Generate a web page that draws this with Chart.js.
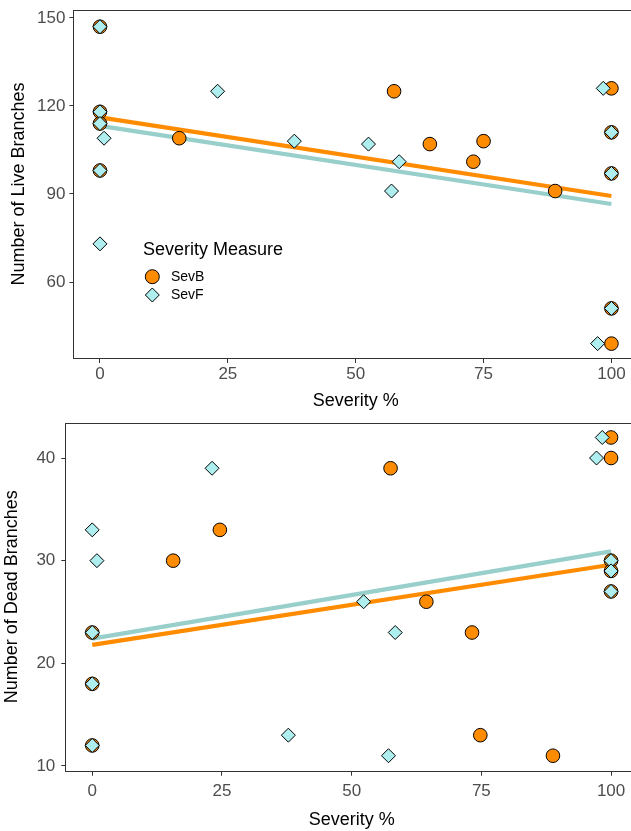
<!DOCTYPE html>
<html>
<head>
<meta charset="utf-8">
<script src="https://cdn.jsdelivr.net/npm/chart.js@4.4.0/dist/chart.umd.min.js"></script>
<style>
  html, body { margin: 0; padding: 0; background: #fff; overflow: hidden; width: 631px; height: 831px; }
  .panel { position: absolute; left: 0; }
</style>
</head>
<body>
<div class="panel" style="top:0"><canvas id="liveChart" width="637" height="415"></canvas></div>
<div class="panel" style="top:415px"><canvas id="deadChart" width="637" height="416"></canvas></div>
<script>
// --- data ---
// top panel: number of live branches
const liveSevBX = [0, 0, 0, 0, 15.5, 57.5, 64.5, 73, 75, 89, 100, 100, 100, 100, 100];
const liveSevBY = [147, 118, 114, 98, 109, 125, 107, 101, 108, 91, 126, 111, 97, 51, 39];
const liveSevFX = [0, 0, 0, 0, 0, 0.8, 23, 38, 52.5, 57, 58.5, 98.4, 97.3, 100, 100, 100];
const liveSevFY = [147, 118, 114, 98, 73, 109, 125, 108, 107, 91, 101, 126, 39, 111, 97, 51];

// bottom panel: number of dead branches
const deadSevBX = [0, 0, 0, 15.6, 24.6, 57.5, 64.4, 73.2, 74.8, 88.8, 100, 100, 100, 100, 100];
const deadSevBY = [23, 18, 12, 30, 33, 39, 26, 23, 13, 11, 42, 40, 30, 29, 27];
const deadSevFX = [0, 0.9, 0, 0, 0, 23.1, 37.8, 52.3, 57.1, 58.4, 97.2, 98.3, 100, 100, 100];
const deadSevFY = [33, 30, 23, 18, 12, 39, 13, 26, 11, 23, 40, 42, 30, 29, 27];

// fitted lines (value at severity 0 and 100)
const fitX = [0, 100];
const liveFitB = [116.1, 89.3];
const liveFitF = [113.2, 86.6];
const deadFitB = [21.8, 29.6];
const deadFitF = [22.4, 30.9];

const xTicks = [0, 25, 50, 75, 100];
const liveTicks = [60, 90, 120, 150];
const deadTicks = [10, 20, 30, 40];

const seriesNames = ["SevB", "SevF"];

// --- styles ---
const ORANGE = "#FF8C00";
const TURQ = "#AEEEEE";
const TEAL = "#98CFCB";
const FONT = "'Liberation Sans', Arial, sans-serif";

function toPoints(xs, ys) {
  return xs.map((x, i) => ({ x: x, y: ys[i] }));
}

// tick labels must not shrink the plot area
function noPadding(s) {
  s.paddingTop = 0;
  s.paddingBottom = 0;
  s.paddingLeft = 0;
  s.paddingRight = 0;
}

// full box around the panel like the ggplot theme
const panelBox = {
  id: "panelBox",
  afterDraw(chart) {
    const a = chart.chartArea;
    const ctx = chart.ctx;
    ctx.save();
    ctx.strokeStyle = "#333333";
    ctx.lineWidth = 1;
    ctx.strokeRect(Math.round(a.left) - 0.5, Math.round(a.top) + 0.5,
      Math.round(a.right - a.left), Math.round(a.bottom - a.top));
    ctx.restore();
  }
};

// legend inside the top panel
const innerLegend = {
  id: "innerLegend",
  afterDraw(chart) {
    const ctx = chart.ctx;
    ctx.save();
    ctx.textBaseline = "middle";
    ctx.textAlign = "left";
    ctx.fillStyle = "#000";
    ctx.font = "18px " + FONT;
    ctx.fillText("Severity Measure", 143, 250);

    ctx.lineWidth = 1;
    ctx.strokeStyle = "#000";
    // circle key
    ctx.beginPath();
    ctx.arc(152.3, 276.7, 7, 0, Math.PI * 2);
    ctx.fillStyle = ORANGE;
    ctx.fill();
    ctx.stroke();
    // diamond key
    ctx.beginPath();
    ctx.moveTo(152.3, 288);
    ctx.lineTo(159.3, 295);
    ctx.lineTo(152.3, 302);
    ctx.lineTo(145.3, 295);
    ctx.closePath();
    ctx.fillStyle = TURQ;
    ctx.fill();
    ctx.stroke();

    ctx.fillStyle = "#000";
    ctx.font = "14px " + FONT;
    ctx.fillText(seriesNames[0], 171, 277);
    ctx.fillText(seriesNames[1], 171, 295);
    ctx.restore();
  }
};

function makeChart(id, cfg) {
  const ctx = document.getElementById(id).getContext("2d");
  return new Chart(ctx, {
    type: "scatter",
    data: {
      datasets: [
        {
          label: seriesNames[1],
          data: toPoints(cfg.fx, cfg.fy),
          pointStyle: "rectRot",
          pointRadius: 7,
          backgroundColor: TURQ,
          borderColor: "#000",
          borderWidth: 1,
          order: 0,
          clip: false
        },
        {
          label: seriesNames[0],
          data: toPoints(cfg.bx, cfg.by),
          pointStyle: "circle",
          pointRadius: 6.8,
          backgroundColor: ORANGE,
          borderColor: "#000",
          borderWidth: 1,
          order: 1,
          clip: false
        },
        {
          label: "fit SevB",
          data: toPoints(fitX, cfg.fitB),
          showLine: true,
          pointRadius: 0,
          borderColor: ORANGE,
          borderWidth: 4.2,
          order: 2
        },
        {
          label: "fit SevF",
          data: toPoints(fitX, cfg.fitF),
          showLine: true,
          pointRadius: 0,
          borderColor: TEAL,
          borderWidth: 4.2,
          order: 3
        }
      ]
    },
    options: {
      responsive: false,
      animation: false,
      events: [],
      layout: { autoPadding: false, padding: { top: cfg.padTop, left: 0, right: 0, bottom: 0 } },
      plugins: { legend: { display: false }, tooltip: { enabled: false } },
      scales: {
        x: {
          type: "linear",
          min: -5,
          max: 105,
          afterBuildTicks: (s) => { s.ticks = xTicks.map((v) => ({ value: v })); },
          afterFit: (s) => { s.height = cfg.xHeight; noPadding(s); },
          grid: { drawOnChartArea: false, drawTicks: true, tickLength: 5, color: "#333333" },
          border: { display: false },
          ticks: { color: "#4D4D4D", font: { family: FONT, size: 17 }, padding: cfg.xTickPad, maxRotation: 0 },
          title: {
            display: true, text: "Severity %", color: "#000",
            font: { family: FONT, size: 18 }, padding: { top: 0, bottom: cfg.xTitlePad }
          }
        },
        y: {
          type: "linear",
          min: cfg.yMin,
          max: cfg.yMax,
          afterBuildTicks: (s) => { s.ticks = cfg.yTicks.map((v) => ({ value: v })); },
          afterFit: (s) => { s.width = cfg.yWidth; noPadding(s); },
          grid: { drawOnChartArea: false, drawTicks: true, tickLength: 5, color: "#333333" },
          border: { display: false },
          ticks: { color: "#4D4D4D", font: { family: FONT, size: 17 }, padding: cfg.yTickPad },
          title: {
            display: true, text: cfg.yTitle, color: "#000",
            font: { family: FONT, size: 18 }, padding: { top: cfg.yTitlePad, bottom: 0 }
          }
        }
      }
    },
    plugins: cfg.legend ? [panelBox, innerLegend] : [panelBox]
  });
}

makeChart("liveChart", {
  bx: liveSevBX, by: liveSevBY, fx: liveSevFX, fy: liveSevFY,
  fitB: liveFitB, fitF: liveFitF,
  yMin: 34.1, yMax: 152.7, yTicks: liveTicks,
  yTitle: "Number of Live Branches",
  padTop: 10, xHeight: 57, yWidth: 74.4,
  xTickPad: 1, xTitlePad: 3, yTickPad: 4, yTitlePad: 8,
  legend: true
});

makeChart("deadChart", {
  bx: deadSevBX, by: deadSevBY, fx: deadSevFX, fy: deadSevFY,
  fitB: deadFitB, fitF: deadFitF,
  yMin: 9.54, yMax: 43.44, yTicks: deadTicks,
  yTitle: "Number of Dead Branches",
  padTop: 7.7, xHeight: 60.3, yWidth: 66.3,
  xTickPad: 5, xTitlePad: 0, yTickPad: 6, yTitlePad: 1,
  legend: false
});
</script>
</body>
</html>
